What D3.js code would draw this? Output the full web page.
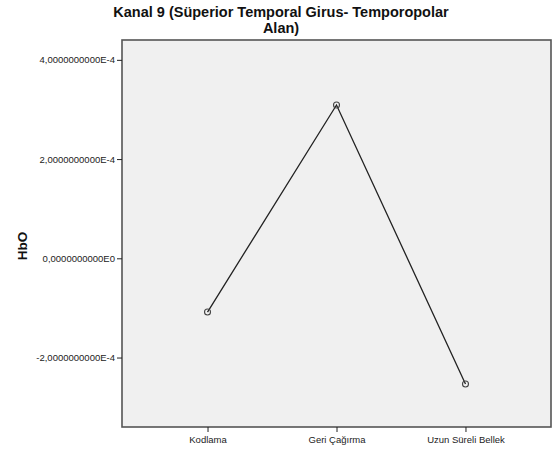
<!DOCTYPE html>
<html>
<head>
<meta charset="utf-8">
<script src="https://cdn.jsdelivr.net/npm/d3@7"></script>
<style>
  html, body { margin: 0; padding: 0; background: #fff; }
  svg { display: block; font-family: "Liberation Sans", Arial, sans-serif; }
</style>
</head>
<body>
<svg id="chart" width="556" height="460"></svg>
<script>
// Mean HbO per task phase
const phases = ["Kodlama", "Geri Çağırma", "Uzun Süreli Bellek"];
const hbo = [-1.083e-4, 3.09e-4, -2.534e-4];
const yTicks = [-2e-4, 0, 2e-4, 4e-4];
const titleLines = ["Kanal 9 (Süperior Temporal Girus- Temporopolar", "Alan)"];
const yLabel = "HbO";

const svg = d3.select("#chart");
const plot = { left: 122, top: 40, right: 551, bottom: 427 };

const x = d3.scalePoint().domain(phases)
  .range([plot.left, plot.right]).padding(0.663);
const y = d3.scaleLinear().domain([-3.4e-4, 4.4e-4])
  .range([plot.bottom, plot.top]);

// SPSS-style scientific labels with decimal comma
const fmt = v => v.toExponential(10).replace(".", ",").replace("e+", "E").replace("e-", "E-");

// plot background and frame
svg.append("rect")
  .attr("x", plot.left).attr("y", plot.top)
  .attr("width", plot.right - plot.left).attr("height", plot.bottom - plot.top)
  .attr("fill", "#f0f0f0").attr("stroke", "#555").attr("stroke-width", 1.6);

// y axis
const yAxis = svg.append("g")
  .attr("transform", `translate(${plot.left},0)`)
  .call(d3.axisLeft(y).tickValues(yTicks).tickFormat(fmt).tickSize(5).tickPadding(2));
yAxis.select(".domain").remove();
yAxis.selectAll(".tick line").attr("stroke", "#222");
yAxis.selectAll(".tick text").attr("fill", "#222").style("font-size", "9.5px")
  .attr("font-family", "'Liberation Sans', Arial, sans-serif");

// x axis
const xAxis = svg.append("g")
  .attr("transform", `translate(0,${plot.bottom})`)
  .call(d3.axisBottom(x).tickSize(5).tickPadding(4));
xAxis.select(".domain").remove();
xAxis.selectAll(".tick line").attr("stroke", "#222");
xAxis.selectAll(".tick text").attr("fill", "#222").style("font-size", "9.5px")
  .attr("font-family", "'Liberation Sans', Arial, sans-serif");

// mean line
const line = d3.line().x((d, i) => x(phases[i])).y(d => y(d));
svg.append("path").datum(hbo)
  .attr("d", line).attr("fill", "none")
  .attr("stroke", "#222").attr("stroke-width", 1.3);

// point markers
svg.selectAll("circle.pt").data(hbo).join("circle")
  .attr("class", "pt")
  .attr("cx", (d, i) => x(phases[i])).attr("cy", d => y(d))
  .attr("r", 3).attr("fill", "none")
  .attr("stroke", "#444").attr("stroke-width", 1.1);

// y axis title
svg.append("text")
  .attr("transform", "translate(27,246) rotate(-90)")
  .attr("text-anchor", "middle")
  .attr("font-weight", "bold").attr("font-size", "13.5px").attr("fill", "#111")
  .text(yLabel);

// chart title, two lines
svg.selectAll("text.title").data(titleLines).join("text")
  .attr("class", "title")
  .attr("x", 281).attr("y", (d, i) => 17 + i * 16)
  .attr("text-anchor", "middle")
  .attr("font-weight", "bold").attr("font-size", "14.5px").attr("fill", "#111")
  .text(d => d);
</script>
</body>
</html>
